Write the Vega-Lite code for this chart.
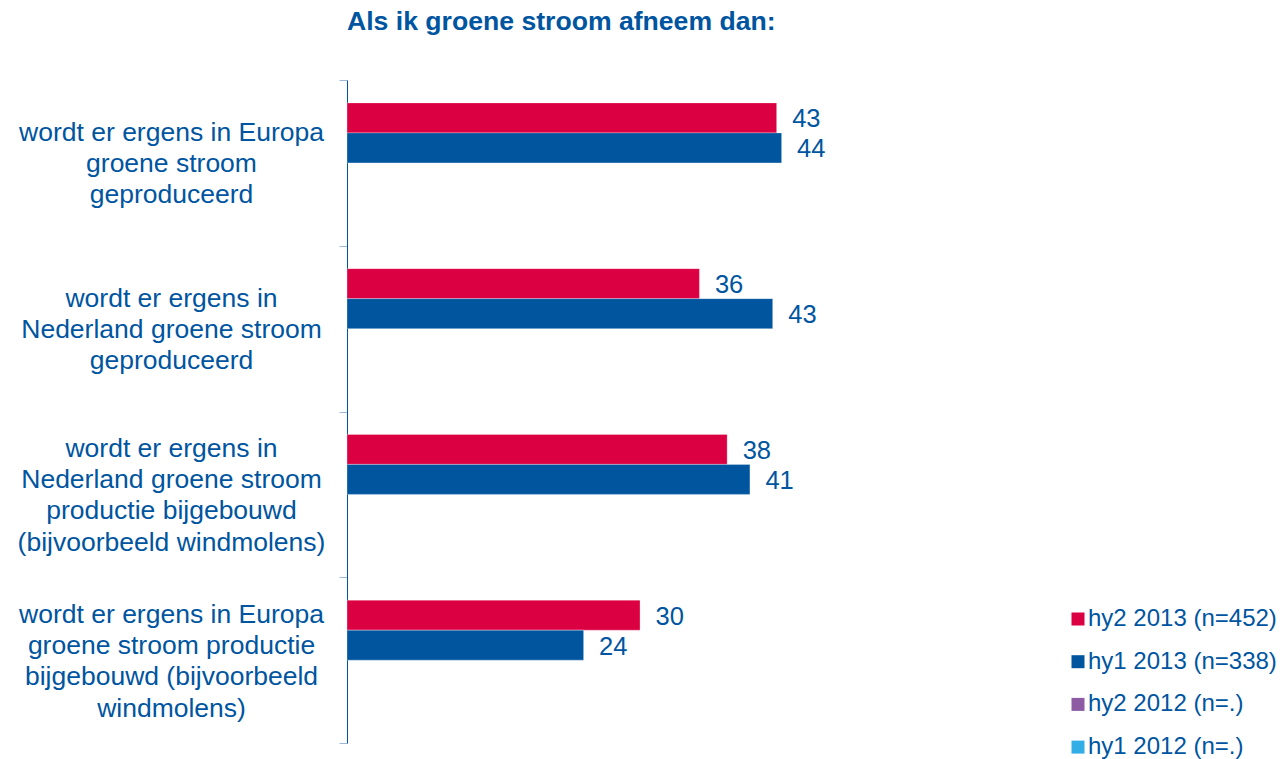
{
  "$schema": "https://vega.github.io/schema/vega-lite/v6.json",
  "autosize": {"type": "none"},
  "padding": {"left": 347, "top": 80, "right": 442, "bottom": 16},
  "width": 495,
  "height": 663,
  "background": "white",
  "config": {
    "view": {"stroke": null},
    "font": "Liberation Sans, Arial, sans-serif"
  },
  "title": {
    "text": "Als ik groene stroom afneem dan:",
    "anchor": "start",
    "frame": "group",
    "fontSize": 26.6,
    "fontWeight": "bold",
    "color": "#0055A0",
    "font": "Liberation Sans, Arial, sans-serif",
    "offset": 31,
    "dx": 0
  },
  "data": {
    "values": [
      {"cat": "wordt er ergens in Europa|groene stroom|geproduceerd", "series": "hy2 2013 (n=452)", "value": 43.4},
      {"cat": "wordt er ergens in Europa|groene stroom|geproduceerd", "series": "hy1 2013 (n=338)", "value": 43.9},
      {"cat": "wordt er ergens in|Nederland groene stroom|geproduceerd", "series": "hy2 2013 (n=452)", "value": 35.6},
      {"cat": "wordt er ergens in|Nederland groene stroom|geproduceerd", "series": "hy1 2013 (n=338)", "value": 43.0},
      {"cat": "wordt er ergens in|Nederland groene stroom|productie bijgebouwd|(bijvoorbeeld windmolens)", "series": "hy2 2013 (n=452)", "value": 38.4},
      {"cat": "wordt er ergens in|Nederland groene stroom|productie bijgebouwd|(bijvoorbeeld windmolens)", "series": "hy1 2013 (n=338)", "value": 40.7},
      {"cat": "wordt er ergens in Europa|groene stroom productie|bijgebouwd (bijvoorbeeld|windmolens)", "series": "hy2 2013 (n=452)", "value": 29.6},
      {"cat": "wordt er ergens in Europa|groene stroom productie|bijgebouwd (bijvoorbeeld|windmolens)", "series": "hy1 2013 (n=338)", "value": 23.9}
    ]
  },
  "encoding": {
    "y": {
      "field": "cat",
      "type": "nominal",
      "sort": null,
      "scale": {"paddingInner": 0, "paddingOuter": 0},
      "axis": {
        "title": null,
        "labelExpr": "split(datum.label, '|')",
        "labelAlign": "center",
        "labelBaseline": "middle",
        "labelOffset": {"condition": {"test": "length(split(datum.label, '|')) == 4", "value": -46}, "value": -30.5},
        "labelPadding": 168,
        "labelFontSize": 26.5,
        "labelLineHeight": 31.3,
        "labelColor": "#0055A0",
        "labelLimit": 400,
        "labelFont": "Liberation Sans, Arial, sans-serif",
        "tickBand": "extent",
        "tickSize": 8,
        "tickColor": "#9DB8D9",
        "domainColor": "#0055A0",
        "grid": false
      }
    },
    "yOffset": {
      "field": "series",
      "type": "nominal",
      "scale": {
        "domain": ["hy2 2013 (n=452)", "hy1 2013 (n=338)", "hy2 2012 (n=.)", "hy1 2012 (n=.)"],
        "paddingInner": 0,
        "paddingOuter": 0.7625
      }
    },
    "x": {
      "field": "value",
      "type": "quantitative",
      "scale": {"domain": [0, 50], "nice": false, "zero": true},
      "axis": null
    }
  },
  "layer": [
    {
      "mark": {"type": "bar", "strokeWidth": 0.6, "stroke": "#ffffff", "strokeOpacity": 0.5},
      "encoding": {
        "color": {
          "field": "series",
          "type": "nominal",
          "scale": {
            "domain": ["hy2 2013 (n=452)", "hy1 2013 (n=338)", "hy2 2012 (n=.)", "hy1 2012 (n=.)"],
            "range": ["#DB0042", "#00559F", "#8C5BA3", "#33ADE6"]
          },
          "legend": {
            "title": null,
            "orient": "none",
            "legendX": 719,
            "legendY": 527,
            "symbolType": "square",
            "symbolSize": 169,
            "symbolStrokeWidth": 0,
            "labelFontSize": 24,
            "labelColor": "#0055A0",
            "labelFont": "Liberation Sans, Arial, sans-serif",
            "labelOffset": -2,
            "labelLimit": 300,
            "rowPadding": 18.7
          }
        }
      }
    },
    {
      "mark": {
        "type": "text",
        "align": "left",
        "baseline": "middle",
        "dx": 15.5,
        "dy": 1.5,
        "fontSize": 25.5,
        "color": "#0055A0",
        "font": "Liberation Sans, Arial, sans-serif"
      },
      "encoding": {
        "text": {"field": "value", "type": "quantitative", "format": ".0f"}
      }
    }
  ]
}
